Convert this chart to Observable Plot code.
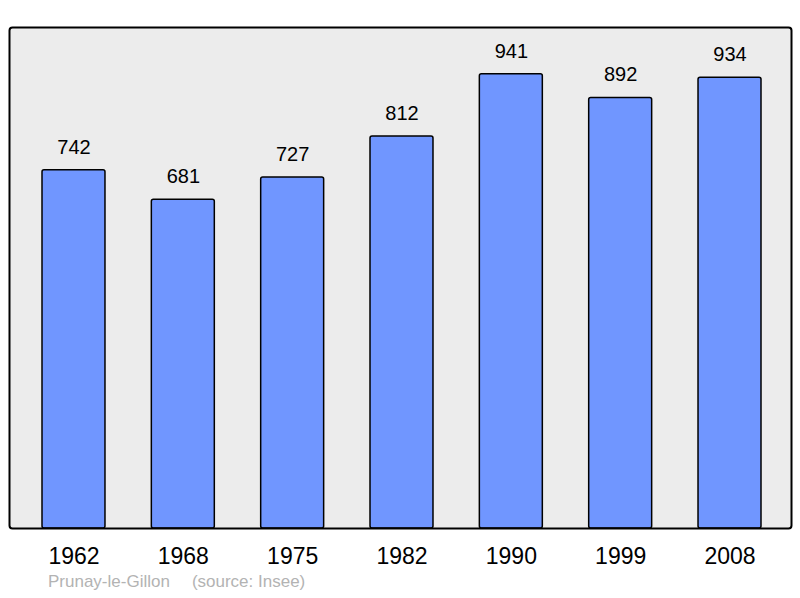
<!DOCTYPE html>
<html>
<head>
<meta charset="utf-8">
<script src="https://cdn.jsdelivr.net/npm/d3@7"></script>
<script src="https://cdn.jsdelivr.net/npm/@observablehq/plot@0.6"></script>
<style>
  body { margin: 0; background: #fff; font-family: "Liberation Sans", Arial, sans-serif; }
  #wrap { position: relative; width: 800px; height: 598px; }
  #caption { position: absolute; left: 48px; top: 572px; font-size: 17px; color: #b3b3b3; white-space: nowrap; }
  #caption span + span { margin-left: 22px; }
</style>
</head>
<body>
<div id="wrap">
  <div id="chart"></div>
  <div id="caption"><span>Prunay-le-Gillon</span><span>(source: Insee)</span></div>
</div>
<script>
const years = ["1962", "1968", "1975", "1982", "1990", "1999", "2008"];
const population = [742, 681, 727, 812, 941, 892, 934];

const data = years.map((y, i) => ({year: y, pop: population[i]}));

const chart = Plot.plot({
  width: 800,
  height: 598,
  marginTop: 27,
  marginBottom: 70,
  marginLeft: 9,
  marginRight: 9,
  style: {fontFamily: "Liberation Sans, Arial, sans-serif", background: "white"},
  x: {domain: years, range: [42, 761], round: false, paddingInner: 0.424, paddingOuter: 0, label: null},
  y: {domain: [0, 1038], axis: null},
  marks: [
    Plot.frame({fill: "#ececec", stroke: null}),
    Plot.barY(data, {x: "year", y: "pop", fill: "#7096ff", stroke: "black", strokeWidth: 1.5, rx: 2}),
    Plot.text(data, {x: "year", y: "pop", text: d => String(d.pop), dy: -23, fontSize: 20, fill: "black"}),
    Plot.frame({stroke: "black", strokeWidth: 2, rx: 3}),
    Plot.axisX({tickSize: 0, tickPadding: 19, fontSize: 23, label: null, color: "black"})
  ]
});
document.getElementById("chart").appendChild(chart);
</script>
</body>
</html>
